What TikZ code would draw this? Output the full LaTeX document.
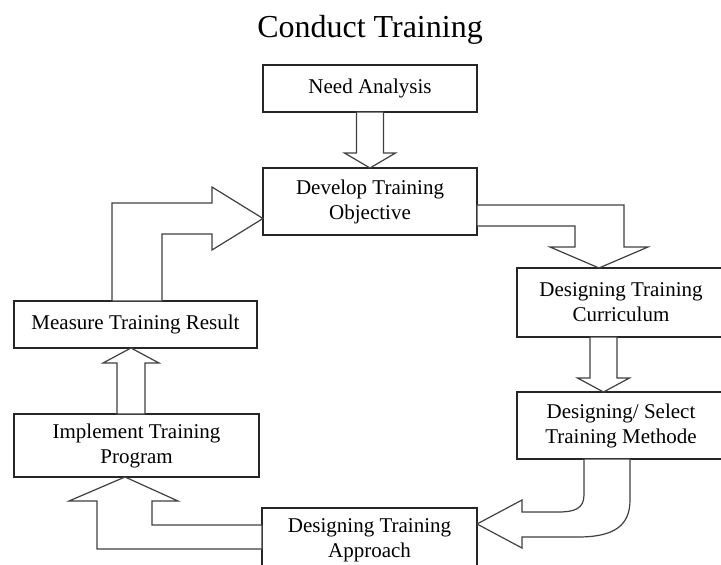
\documentclass[tikz,border=0pt]{standalone}
\usepackage{fontspec}
\setmainfont{Liberation Serif}
\usetikzlibrary{calc, positioning}

\begin{document}
\begin{tikzpicture}[x=1pt, y=-1pt, line width=1.2pt,
	box/.style={shape=rectangle, draw=black!85, fill=white, align=center, inner sep=0pt, outer sep=0pt, font=\fontsize{21}{25}\selectfont},
	blk/.style={draw=black!75, fill=white, line join=miter}]
\useasboundingbox (0,0) rectangle (721,565);
\node[font=\fontsize{32}{38}\selectfont, anchor=base] (title) at (370,37) {Conduct Training};
\node[box, minimum width=214pt, minimum height=47pt] (need) at (370,88.5) {Need Analysis};
\node[box, minimum width=214pt, minimum height=67pt] (develop) at (370,201.5) {Develop Training\\Objective};
\node[box, minimum width=208pt, minimum height=69pt] (curric) at (621,302.5) {Designing Training\\Curriculum};
\node[box, minimum width=208pt, minimum height=67pt] (methode) at (621,425.5) {Designing/ Select\\Training Methode};
\node[box, minimum width=215pt, minimum height=64pt] (approach) at (369.5,540) {Designing Training\\Approach};
\node[box, minimum width=245pt, minimum height=63pt] (implement) at (136.5,445.5) {Implement Training\\Program};
\node[box, minimum width=243pt, minimum height=47pt] (measure) at (135.5,324.5) {Measure Training Result};

\draw[blk] ([xshift=-13.5pt]need.south) -- ++(0,41) -- ++(-12,0) -- (develop.north) -- ++(25.5,-15) -- ++(-12,0) -- ([xshift=13.5pt]need.south) -- cycle;
\draw[blk] ([yshift=-3.5pt]develop.east) -- ++(147,0) -- ++(0,42) -- ++(24,0) -- ([xshift=82pt]curric.north west) -- ++(-49,-21) -- ++(25,0) -- ++(0,-21) -- ([yshift=-24.5pt]develop.east) -- cycle;
\draw[blk] ([xshift=73pt]curric.south west) -- ++(0,41) -- ++(-12.5,0) -- ([xshift=86.5pt]methode.north west) -- ++(26,-14) -- ++(-12.5,0) -- ([xshift=100pt]curric.south west) -- cycle;
\draw[blk] ([xshift=67pt]methode.south west) -- ++(0,36) .. controls +(0,14) and +(16,0) .. ++(-26,17) -- ++(-36,0) -- ++(0,-12) -- ([yshift=16pt]approach.east) -- ++(45,24) -- ++(0,-11) -- ++(56,0) .. controls +(37,0) and +(0,25) .. ++(52,-37) -- ([xshift=113pt]methode.south west) -- cycle;
\draw[blk] ([yshift=15pt]approach.west) -- ++(-110,0) -- ++(0,-24) -- ++(26,0) -- ([xshift=111pt]implement.south west) -- ++(-56,24) -- ++(28,0) -- ++(0,48) -- ([yshift=-9pt]approach.west) -- cycle;
\draw[blk] ([xshift=103pt]implement.north west) -- ++(0,-51) -- ++(-14,0) -- ([xshift=117pt]measure.south west) -- ++(28,15) -- ++(-14,0) -- ([xshift=131pt]implement.north west) -- cycle;
\draw[blk] ([xshift=98pt]measure.north west) -- ++(0,-98) -- ++(100,0) -- ++(0,-16) -- ([yshift=-17pt]develop.west) -- ++(-51,31.5) -- ++(0,-16) -- ++(-50,0) -- ([xshift=148pt]measure.north west) -- cycle;
\end{tikzpicture}
\end{document}
